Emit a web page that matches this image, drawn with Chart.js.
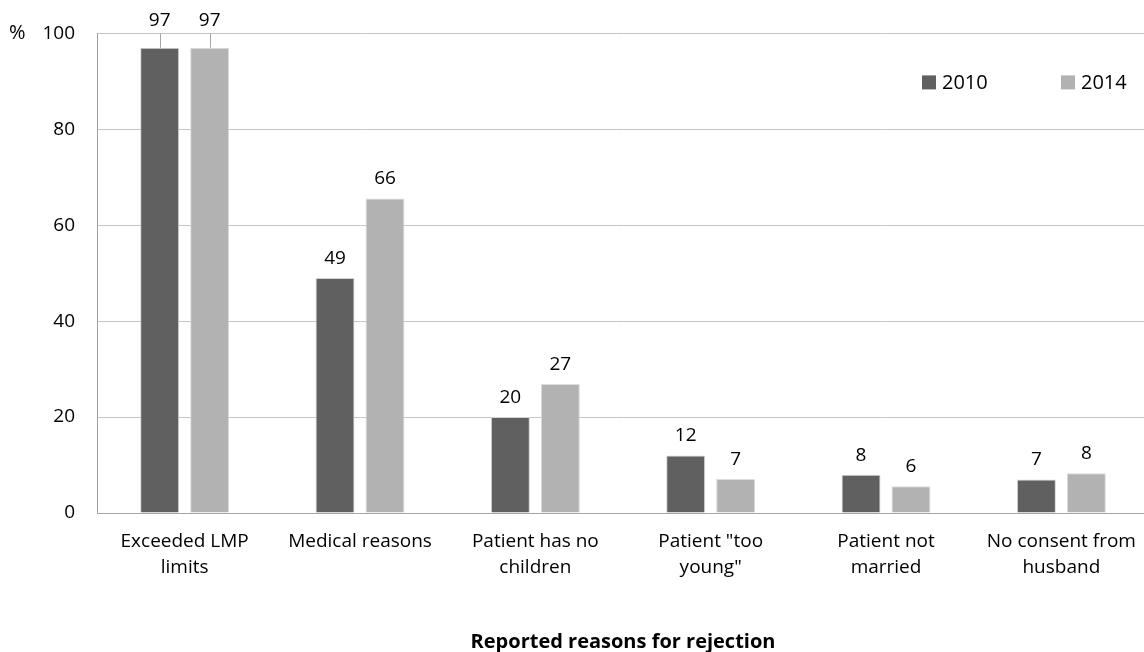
<!DOCTYPE html>
<html lang="en">
<head>
  <meta charset="UTF-8" />
  <title>Reported reasons for rejection</title>
  <script src="https://cdn.jsdelivr.net/npm/chart.js"></script>
  <style>
    html, body {
      margin: 0;
      padding: 0;
      background: white;
      overflow: hidden;
    }
    #wrap {
      width: 1152px;
      height: 652px;
    }
  </style>
</head>
<body>
  <div id="wrap">
    <canvas id="chart" width="1152" height="652"></canvas>
  </div>

  <script>
    // data
    const categories = [
      ['Exceeded LMP', 'limits'],
      'Medical reasons',
      ['Patient has no', 'children'],
      ['Patient "too', 'young"'],
      ['Patient not', 'married'],
      ['No consent from', 'husband']
    ];
    const values2010 = [97, 49, 20, 12, 8, 7];
    const values2014 = [97, 65.6, 26.9, 7.1, 5.6, 8.3];
    const yTicks = [0, 20, 40, 60, 80, 100];

    const FONT = "'Open Sans', sans-serif";

    // value labels over the bars, with a leader line when pushed above the plot
    const barLabels = {
      id: 'barLabels',
      afterDatasetsDraw(chart) {
        const ctx = chart.ctx;
        const top = chart.chartArea.top;
        ctx.save();
        ctx.font = '19px ' + FONT;
        ctx.fillStyle = '#000';
        ctx.textAlign = 'center';
        ctx.textBaseline = 'alphabetic';
        chart.data.datasets.forEach((ds, i) => {
          chart.getDatasetMeta(i).data.forEach((bar, j) => {
            let y = bar.y - 14;
            const txt = Math.round(ds.data[j]).toString();
            if (y < top + 10) {
              // label would sit on the top gridline: lift it and draw a leader
              y = top - 7;
              ctx.strokeStyle = '#a6a6a6';
              ctx.lineWidth = 1;
              ctx.beginPath();
              ctx.moveTo(Math.round(bar.x) + 0.5, top);
              ctx.lineTo(Math.round(bar.x) + 0.5, bar.y);
              ctx.stroke();
            }
            ctx.fillText(txt, bar.x, y);
          });
        });
        ctx.restore();
      }
    };

    // "%" unit, and legend inside the plot at the top right
    const extras = {
      id: 'extras',
      afterDraw(chart) {
        const ctx = chart.ctx;
        const yScale = chart.scales.y;
        ctx.save();
        ctx.font = '20px ' + FONT;
        ctx.fillStyle = '#000';
        ctx.textBaseline = 'middle';
        ctx.textAlign = 'left';
        ctx.fillText('%', 9, yScale.getPixelForValue(100));

        ctx.font = '20px ' + FONT;
        const legendY = chart.chartArea.top + 49;
        const starts = [922, 1061];
        chart.data.datasets.forEach((ds, i) => {
          ctx.fillStyle = ds.backgroundColor;
          ctx.fillRect(starts[i], legendY - 7, 14, 14);
          ctx.fillStyle = '#000';
          ctx.fillText(ds.label, starts[i] + 20, legendY + 1);
        });
        ctx.restore();
      }
    };

    new Chart(document.getElementById('chart'), {
      type: 'bar',
      data: {
        labels: categories,
        datasets: [
          {
            label: '2010',
            data: values2010,
            backgroundColor: '#606060',
            borderColor: '#d4d4d4',
            borderWidth: 1,
            categoryPercentage: 0.57,
            barPercentage: 0.78
          },
          {
            label: '2014',
            data: values2014,
            backgroundColor: '#b2b2b2',
            borderColor: '#dcdcdc',
            borderWidth: 1,
            categoryPercentage: 0.57,
            barPercentage: 0.78
          }
        ]
      },
      options: {
        responsive: false,
        animation: false,
        devicePixelRatio: 1,
        layout: {
          padding: { top: 33, right: 1, bottom: 0, left: 0 }
        },
        plugins: {
          legend: { display: false },
          tooltip: { enabled: false }
        },
        scales: {
          x: {
            grid: { display: false, drawTicks: false },
            border: { color: '#a6a6a6', width: 1 },
            ticks: {
              color: '#000',
              font: { family: FONT, size: 19, lineHeight: 1.37 },
              padding: 16,
              maxRotation: 0,
              autoSkip: false
            },
            title: {
              display: true,
              text: 'Reported reasons for rejection',
              color: '#000',
              font: { family: FONT, size: 20, weight: 'bold' },
              padding: { top: 0, bottom: -2 }
            },
            afterFit(scale) { scale.height = 652 - 513; }
          },
          y: {
            min: 0,
            max: 100,
            afterBuildTicks(scale) {
              scale.ticks = yTicks.map(v => ({ value: v }));
            },
            grid: { color: '#c4c4c4', lineWidth: 1, drawTicks: false },
            border: { color: '#a0a0a0', width: 1 },
            ticks: {
              color: '#000',
              font: { family: FONT, size: 19 },
              padding: 22
            },
            afterFit(scale) { scale.width = 97; }
          }
        }
      },
      plugins: [barLabels, extras]
    });
  </script>
</body>
</html>
